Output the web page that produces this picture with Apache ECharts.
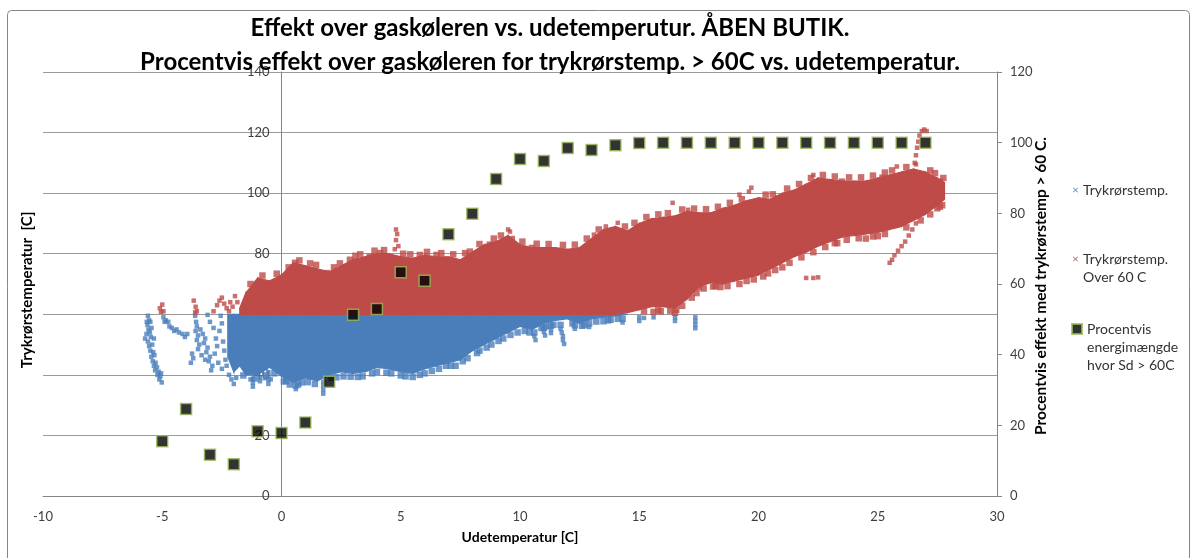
<!DOCTYPE html>
<html>
<head>
<meta charset="utf-8">
<script src="https://cdn.jsdelivr.net/npm/echarts@6/dist/echarts.min.js"></script>
<style>
  html, body { margin: 0; padding: 0; background: #fff; }
  #chart { width: 1197px; height: 558px; }
</style>
</head>
<body>
<div id="chart"></div>
<script>
// Outdoor temperature axis and the two value axes
const xTicks = { min: -10, max: 30, step: 5 };
const leftTicks = { min: 0, max: 140, step: 20 };
const rightTicks = { min: 0, max: 120, step: 20 };
const THRESHOLD = 60; // pipe temperature split between the two point clouds

// Dense part of the pipe-temperature cloud above 60 C: outline per outdoor temperature
const redX = [-1.75, -1.5, -1, -0.5, 0, 0.5, 1, 1.5, 2, 2.5, 3, 3.5, 4, 4.5, 5, 5.5, 6, 6.5, 7, 7.5,
  8, 8.5, 9, 9.5, 10, 10.5, 11, 11.5, 12, 12.5, 13, 13.5, 14, 14.5, 15, 15.5, 16, 16.5, 17, 17.5,
  18, 18.5, 19, 19.5, 20, 20.5, 21, 21.5, 22, 22.5, 23, 23.5, 24, 24.5, 25, 25.5, 26, 26.5, 27, 27.5, 27.8];
const redTop = [62, 67, 72, 71, 73, 77, 76, 75, 74, 76, 78, 79, 80, 80, 79, 78.5, 79.5, 79, 79, 78,
  80.5, 83, 84, 86, 83, 82, 82, 82, 81.5, 82, 85, 88, 89, 87.5, 90, 91.5, 92, 92.5, 94, 93.5,
  93.5, 95, 96, 97.5, 98.5, 98, 100, 101, 103, 105, 104.5, 104, 104, 104, 105, 106, 107, 108, 107, 105, 103.5];
const redBottom = [60, 60, 60, 60, 60, 60, 60, 60, 60, 60, 60, 60, 60, 60, 60, 60, 60, 60, 60, 60,
  60, 60, 60, 60, 60, 60, 60, 60, 60, 60, 60, 60, 60, 60.5, 61.5, 62.5, 62.5, 62, 65, 69,
  70.5, 70, 71, 72, 73, 75, 77, 79, 80.5, 82.5, 84, 85.5, 86, 86.5, 87, 88, 89, 91, 93, 96, 98];

// Dense part of the cloud below 60 C: lower outline per outdoor temperature
const blueX = [-2.25, -2, -1.75, -1.5, -1, -0.5, 0, 0.5, 1, 1.5, 2, 2.5, 3, 3.5, 4, 4.5, 5, 5.5,
  6, 6.5, 7, 7.5, 8, 8.5, 9, 9.5, 10, 10.5, 11, 11.5, 12, 12.5, 13, 13.5, 14, 14.5];
const blueBottom = [46, 41, 43, 40, 40, 42.5, 39.5, 37.5, 39, 38, 40, 41, 40.5, 41, 42.5, 42, 41, 40.5,
  42, 43, 44, 45, 48, 50, 52, 54, 56, 55, 57, 58, 58.5, 57, 58.5, 59, 59.5, 60];

// Single readings below 60 C: cold-day strands and drips under the dense part
const bluePoints = [
  [-5.60, 59.5], [-5.55, 58], [-5.62, 56.5], [-5.50, 57.5], [-5.58, 55], [-5.66, 53.5], [-5.52, 54],
  [-5.72, 52], [-5.60, 51], [-5.48, 52.5], [-5.55, 49.5], [-5.42, 50], [-5.50, 48], [-5.38, 47.5],
  [-5.46, 46], [-5.33, 46.5], [-5.40, 44.5], [-5.28, 44], [-5.35, 43], [-5.22, 42.5], [-5.30, 41.5],
  [-5.15, 41], [-5.20, 40], [-5.08, 39.5], [-5.12, 38.5], [-5.02, 37.5], [-5.05, 40.5], [-5.45, 55.5],
  [-5.35, 52], [-5.65, 57.5], [-4.95, 59], [-4.85, 58], [-4.90, 57.5],
  [-4.75, 57.5], [-4.6, 55.5], [-4.5, 54.5], [-4.4, 55], [-4.3, 54], [-4.15, 53.5], [-4.05, 52.5],
  [-3.95, 53.5], [-4.7, 56],
  [-3.62, 59.5], [-3.58, 57.5], [-3.55, 56], [-3.6, 54.5], [-3.5, 53], [-3.55, 51.5], [-3.45, 50],
  [-3.5, 48.5], [-3.75, 47], [-3.7, 45.5], [-3.8, 44], [-3.4, 55], [-3.3, 53.5], [-3.2, 52],
  [-3.25, 50.5], [-3.1, 49], [-3.15, 47.5], [-3.0, 46], [-3.05, 44.5], [-2.9, 43], [-2.95, 41.5],
  [-3.35, 46.5], [-3.2, 45], [-2.8, 47], [-2.7, 49.5], [-2.75, 52], [-2.6, 54.5], [-2.5, 57],
  [-2.55, 59.5], [-2.45, 51], [-2.4, 48], [-2.35, 45], [-2.3, 43], [-2.85, 55.5], [-3.0, 57.5],
  [-3.1, 59.8], [-2.65, 44], [-2.5, 42], [-2.2, 40], [-2.1, 38.5], [-2.0, 37], [-1.9, 39],
  [-1.3, 38.5], [-1.2, 38.7], [-1.2, 37.4], [-1.2, 36.1], [-0.9, 39.2], [-0.9, 37.9],
  [-0.7, 40.2], [-0.7, 38.9], [-0.55, 40.9], [-0.55, 39.6], [-0.55, 38.3], [-0.55, 37],
  [-0.45, 38.5], [0.6, 35.3], [1.75, 37.7], [1.75, 36.4], [1.75, 35.1], [1.75, 33.8],
  [10.6, 52.8], [10.65, 51.5], [11.0, 54.2], [11.05, 53],
  [11.7, 55.2], [11.75, 54], [11.8, 52.8], [11.8, 51.5], [11.85, 50.2],
  [12.3, 55.2], [12.9, 55.8], [14.3, 57.3],
  [15.0, 59], [15.0, 57.8], [15.2, 58.8], [15.6, 59], [16.5, 59], [16.5, 57.8],
  [17.35, 59], [17.35, 57.8], [17.35, 56.6], [17.35, 55.4],
  [11.3, 55], [11.3, 53.8]
];

// Ragged lower edge of the dense part below 60 C
const blueEdge = [
  [0.1, 37.8], [0.35, 36.8], [0.6, 36.5], [0.85, 37.5],
  [2.6, 39.5], [3.2, 39.3], [3.8, 40.5], [4.4, 40.7], [5.2, 39.5], [5.8, 40], [6.3, 41.3],
  [6.9, 43], [7.3, 43], [7.6, 44.5], [8.2, 47.2], [8.6, 49], [9.3, 52], [9.9, 54],
  [10.6, 54], [11.0, 55.5], [11.7, 56.5], [12.3, 56.4], [12.9, 57], [13.5, 57.7], [14.3, 58.5],
  [13.7, 58], [12.6, 56.2], [11.3, 56.3], [10.9, 55.5],
  [-1.6, 39.8], [-1.1, 38.8], [-0.3, 40.5], [0.2, 38], [0.7, 36.8], [1.1, 37.6], [1.4, 37],
  [2.1, 39], [2.3, 39.2], [2.9, 39.4], [3.4, 39.5], [4.0, 41], [4.6, 40.5], [5.0, 39.8], [5.5, 39.3],
  [6.0, 40.5], [6.6, 42], [7.1, 43], [7.8, 45.5], [8.3, 48], [8.8, 50], [9.1, 51.2], [9.6, 53.2],
  [10.2, 54.5], [10.4, 54], [11.1, 56], [11.4, 56.5], [12.2, 57], [12.7, 56.4], [13.2, 57.6],
  [13.8, 58.2], [14.1, 58.5]
];

// Single readings above 60 C: cold days, spikes and stray points
const redPoints = [
  [-5.1, 62], [-5.0, 63.2], [-4.95, 61], [-5.05, 60.8], [-3.68, 64.5], [-3.6, 62.5], [-3.55, 61],
  [-3.62, 60.6], [-2.85, 61], [-2.7, 63], [-2.6, 64.5], [-2.5, 65.5], [-2.4, 63.5], [-2.3, 62],
  [-2.2, 61], [-2.15, 64], [-2.05, 62.5], [-1.95, 66], [-1.85, 64],
  [4.8, 88], [4.85, 86.5], [4.8, 84.5], [4.9, 82.5], [4.75, 81.5],
  [9.58, 87.3], [9.7, 85.2], [9.5, 88], [13.1, 86.3],
  [13.6, 89], [14.1, 90.2], [16.4, 96.8], [17.05, 94.5], [19.2, 99.5], [19.7, 101.8],
  [20.8, 98.5], [19.6, 100.5], [22.3, 106], [25.8, 108.8],
  [26.55, 110], [26.6, 112.5], [26.65, 115], [26.7, 117], [26.75, 119], [26.85, 120.5],
  [26.95, 121], [27.05, 120.5], [26.6, 109.5],
  [26.6, 90], [26.45, 88], [26.3, 86], [26.15, 84], [26.0, 82.5], [25.85, 81], [25.7, 79.5],
  [25.6, 78], [25.5, 77],
  [22.0, 72], [22.3, 72], [22.5, 72.2]
];

// Ragged upper and lower edges of the dense part above 60 C
const redEdge = [
  [0.57, 77], [0.9, 74.7], [0.06, 72], [1.9, 73.6], [2.87, 78], [3.7, 79], [4.13, 80.2],
  [5.8, 79.6], [6.5, 79.6], [7.9, 80.7], [8.74, 83], [10.5, 81.9],
  [19.9, 96.8], [23.5, 103.8], [25.2, 105.1], [26.9, 106.1], [27.6, 103.8],
  [16.5, 60.5], [16.55, 61.5], [15.9, 61], [15.6, 60.8],
  [17.4, 67], [17.5, 69], [18.4, 69], [18.2, 69.3], [19.2, 70], [20.2, 72.5], [21.0, 75.5],
  [23.3, 83.5], [24.5, 85], [25.0, 85.8], [27.5, 95], [27.7, 96],
  [-1.3, 70], [-0.8, 72.8], [-0.2, 73.4], [0.3, 75.5], [0.75, 77.8], [1.2, 76.8], [1.45, 76.3],
  [2.2, 75.5], [2.45, 76.8], [3.1, 79.3], [3.3, 79.8], [3.9, 81], [4.3, 81.2], [5.1, 80],
  [5.4, 79.8], [6.1, 80.6], [6.7, 80.2], [7.2, 79.8], [7.7, 80.2], [8.3, 83.2], [8.9, 85], [9.2, 86],
  [10.1, 84], [10.7, 83.3], [11.2, 83.2], [11.8, 82.9], [12.3, 83], [12.8, 85], [13.3, 88],
  [14.4, 89], [14.8, 90.2], [15.3, 92.1], [15.8, 93], [16.2, 93.4], [16.8, 94.6], [17.3, 94.9],
  [17.8, 94.7], [18.3, 95.5], [18.8, 96.8], [19.3, 98], [20.3, 99.5], [20.6, 99.6], [21.2, 101.5],
  [21.7, 103], [22.2, 105], [22.7, 106], [23.2, 105.5], [23.8, 105.2], [24.3, 105.2],
  [24.8, 105.8], [25.3, 106.8], [25.6, 107.5], [26.2, 108.6], [27.2, 107.5], [27.4, 106.6], [27.75, 105],
  [15.2, 61], [15.8, 61.3], [16.3, 61.2], [16.8, 62.8], [17.2, 65.5], [17.7, 68.5], [18.1, 69.2],
  [18.7, 69.3], [19.5, 71], [19.8, 71.5], [20.4, 73.5], [20.7, 74.6], [21.3, 77], [21.8, 78.8],
  [22.3, 80.5], [22.8, 82.2], [23.2, 83.5], [23.7, 84.6], [24.2, 85.1], [24.8, 85.7], [25.3, 86.5],
  [26.2, 88.7], [26.8, 91], [27.2, 93], [27.6, 95.5]
];

// Share of energy with discharge temperature above 60 C, per degree of outdoor temperature
const shareX = [-5, -4, -3, -2, -1, 0, 1, 2, 3, 4, 5, 6, 7, 8, 9, 10, 11, 12, 13, 14, 15, 16,
  17, 18, 19, 20, 21, 22, 23, 24, 25, 26, 27];
const shareY = [15.5, 24.6, 11.7, 9.0, 18.3, 17.8, 20.8, 32.3, 51.3, 52.9, 63.3, 60.9, 74.1, 79.9,
  89.7, 95.4, 94.8, 98.5, 97.9, 99.3, 99.9, 100, 100, 100, 100, 100, 100, 100, 100, 100, 100, 100, 100];

const NAME_LOW = 'Trykrørstemp.';
const NAME_HIGH = 'Trykrørstemp. Over 60 C';
const NAME_SHARE = 'Procentvis energimængde hvor Sd > 60C';
// Legend text is centred on its symbol, so leading blank lines keep the
// symbol level with the first written line.
const legendText = {
  [NAME_LOW]: 'Trykrørstemp.',
  [NAME_HIGH]: '\nTrykrørstemp.\nOver 60 C',
  [NAME_SHARE]: '\n\nProcentvis\nenergimængde\nhvor Sd > 60C'
};

const BLUE = '#4A7EBB';
const RED = '#BE4B48';
const FONT = 'Lato, "Open Sans", sans-serif';
const CROSS = 'path://M0,1L1,0L5,4L9,0L10,1L6,5L10,9L9,10L5,6L1,10L0,9L4,5Z';

// Filled outline of a dense cloud, drawn strip by strip between neighbouring samples
function cloudBand(name, color, xs, lows, highs, z) {
  const rows = xs.map((x, i) => [x, lows[i], highs[i]]);
  return {
    type: 'custom',
    name: name,
    z: z,
    itemStyle: { color: color },
    encode: { x: 0, y: [1, 2] },
    data: rows,
    silent: true,
    renderItem: function (params, api) {
      const i = params.dataIndex;
      if (i >= rows.length - 1) return { type: 'group', children: [] };
      const a = rows[i], b = rows[i + 1];
      const pts = [
        api.coord([a[0], a[1]]), api.coord([b[0], b[1]]),
        api.coord([b[0], b[2]]), api.coord([a[0], a[2]])
      ];
      return {
        type: 'polygon',
        shape: { points: pts },
        style: { fill: color, stroke: color, lineWidth: 1.2 }
      };
    }
  };
}

function pointCloud(name, color, pts, size, z) {
  return {
    type: 'scatter',
    name: name,
    z: z,
    symbol: 'rect',
    symbolSize: size,
    itemStyle: { color: color },
    silent: true,
    data: pts
  };
}

const chart = echarts.init(document.getElementById('chart'), null, { renderer: 'canvas' });

const axisGray = '#868686';
const labelStyle = { color: '#404040', fontSize: 13, fontFamily: FONT };
const legendStyle = { fontFamily: FONT, fontSize: 14, color: '#333', lineHeight: 18 };

chart.setOption({
  animation: false,
  backgroundColor: '#fff',
  title: {
    text: 'Effekt over gaskøleren vs. udetemperutur. ÅBEN BUTIK.\nProcentvis effekt over gaskøleren for trykrørstemp. > 60C vs. udetemperatur.',
    left: 550,
    top: 11,
    textAlign: 'center',
    padding: 0,
    textStyle: { fontFamily: FONT, fontWeight: 'bold', fontSize: 24, lineHeight: 34, color: '#000' }
  },
  grid: { left: 43, right: 200, top: 72, bottom: 62 },
  xAxis: {
    type: 'value',
    min: xTicks.min, max: xTicks.max, interval: xTicks.step,
    axisLine: { show: true, onZero: false, lineStyle: { color: axisGray } },
    axisTick: { show: false },
    splitLine: { show: false },
    axisLabel: Object.assign({ margin: 14 }, labelStyle)
  },
  yAxis: [
    {
      // left axis sits on the 0 C line of the x axis
      type: 'value',
      min: leftTicks.min, max: leftTicks.max, interval: leftTicks.step,
      offset: -238.5,
      axisLine: { show: true, onZero: false, lineStyle: { color: axisGray } },
      axisTick: { show: false },
      splitLine: { show: true, lineStyle: { color: '#9a9a9a', width: 1 } },
      axisLabel: Object.assign({ margin: 12 }, labelStyle)
    },
    {
      type: 'value',
      position: 'right',
      min: rightTicks.min, max: rightTicks.max, interval: rightTicks.step,
      axisLine: { show: true, onZero: false, lineStyle: { color: axisGray } },
      axisTick: { show: true, inside: false, length: 5, lineStyle: { color: axisGray } },
      splitLine: { show: false },
      axisLabel: Object.assign({ margin: 13 }, labelStyle)
    }
  ],
  legend: [
    {
      left: 1073, top: 181, orient: 'vertical', padding: 0,
      itemWidth: 5, itemHeight: 5, selectedMode: false,
      data: [{ name: NAME_LOW, icon: CROSS }],
      formatter: n => legendText[n],
      textStyle: legendStyle
    },
    {
      left: 1073, top: 232, orient: 'vertical', padding: 0,
      itemWidth: 5, itemHeight: 5, selectedMode: false,
      data: [{ name: NAME_HIGH, icon: CROSS }],
      formatter: n => legendText[n],
      textStyle: legendStyle
    },
    {
      left: 1071, top: 284, orient: 'vertical', padding: 0,
      itemWidth: 10, itemHeight: 10, selectedMode: false,
      data: [{ name: NAME_SHARE, icon: 'rect' }],
      formatter: n => legendText[n],
      textStyle: legendStyle
    }
  ],
  graphic: [
    {
      type: 'rect', silent: true, z: -10,
      shape: { x: 7.5, y: 10.5, width: 1182, height: 570, r: 4 },
      style: { fill: null, stroke: '#868686', lineWidth: 1 }
    },
    {
      type: 'text', silent: true, x: 520, y: 537,
      style: {
        text: 'Udetemperatur [C]', align: 'center', verticalAlign: 'middle',
        font: 'bold 14px ' + FONT, fill: '#000'
      }
    },
    {
      type: 'text', silent: true, x: 27, y: 290, rotation: Math.PI / 2,
      style: {
        text: 'Trykrørstemperatur  [C]', align: 'center', verticalAlign: 'middle',
        font: 'bold 15px ' + FONT, fill: '#000'
      }
    },
    {
      type: 'text', silent: true, x: 1041, y: 286, rotation: Math.PI / 2,
      style: {
        text: 'Procentvis effekt med trykrørstemp > 60 C.', align: 'center', verticalAlign: 'middle',
        font: 'bold 15.5px ' + FONT, fill: '#000'
      }
    }
  ],
  series: [
    cloudBand(NAME_LOW, BLUE, blueX, blueBottom, blueX.map(() => THRESHOLD), 1),
    pointCloud(NAME_LOW, BLUE, bluePoints, 4.5, 2),
    pointCloud(NAME_LOW, BLUE, blueEdge, 6.5, 2),
    cloudBand(NAME_HIGH, RED, redX, redBottom, redTop, 3),
    pointCloud(NAME_HIGH, RED, redPoints, 4.5, 4),
    pointCloud(NAME_HIGH, RED, redEdge, 6.5, 4),
    {
      type: 'scatter',
      name: NAME_SHARE,
      yAxisIndex: 1,
      z: 6,
      symbol: 'rect',
      symbolSize: 11,
      itemStyle: { color: '#000', borderColor: '#9BBB59', borderWidth: 1.5 },
      data: shareX.map((x, i) => [x, shareY[i]])
    }
  ]
});
</script>
</body>
</html>
